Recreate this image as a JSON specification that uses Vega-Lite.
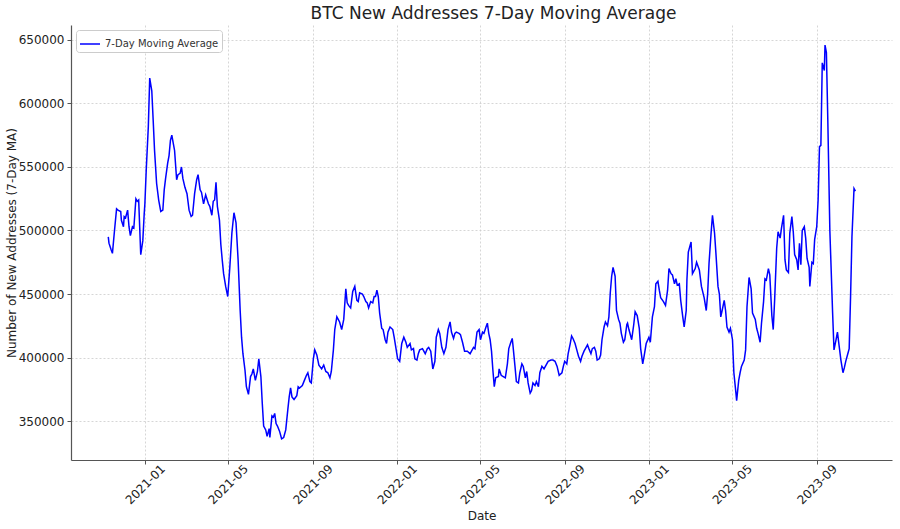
{
  "$schema": "https://vega.github.io/schema/vega-lite/v6.json",
  "width": 821,
  "height": 435,
  "autosize": {"type": "none"},
  "padding": {"left": 71, "top": 25, "right": 8, "bottom": 69},
  "background": "white",
  "title": {"text": "BTC New Addresses 7-Day Moving Average", "fontSize": 17, "fontWeight": "normal", "font": "DejaVu Sans", "color": "#222222", "anchor": "middle", "offset": 2, "dx": 12},
  "data": {"values": [
    {"date":"2020-11-09","value":495000},{"date":"2020-11-10","value":490000},{"date":"2020-11-13","value":485000},{"date":"2020-11-15","value":482000},{"date":"2020-11-18","value":500000},{"date":"2020-11-21","value":517000},{"date":"2020-11-23","value":516000},{"date":"2020-11-27","value":515000},{"date":"2020-11-28","value":508000},{"date":"2020-12-01","value":503000},{"date":"2020-12-02","value":511000},{"date":"2020-12-04","value":510000},{"date":"2020-12-07","value":516000},{"date":"2020-12-09","value":503000},{"date":"2020-12-11","value":496000},{"date":"2020-12-14","value":503000},{"date":"2020-12-16","value":502000},{"date":"2020-12-19","value":525000},{"date":"2020-12-21","value":523000},{"date":"2020-12-23","value":524000},{"date":"2020-12-26","value":481000},{"date":"2020-12-29","value":492000},{"date":"2020-12-31","value":513000},
    {"date":"2021-01-01","value":521000},{"date":"2021-01-03","value":548000},{"date":"2021-01-06","value":582000},{"date":"2021-01-08","value":620000},{"date":"2021-01-11","value":610000},{"date":"2021-01-13","value":587000},{"date":"2021-01-15","value":563000},{"date":"2021-01-18","value":537000},{"date":"2021-01-21","value":524000},{"date":"2021-01-24","value":515000},{"date":"2021-01-27","value":516000},{"date":"2021-01-29","value":532000},{"date":"2021-01-31","value":541000},{"date":"2021-02-03","value":553000},{"date":"2021-02-05","value":559000},{"date":"2021-02-07","value":571000},{"date":"2021-02-09","value":575000},{"date":"2021-02-11","value":569000},{"date":"2021-02-13","value":563000},{"date":"2021-02-16","value":540000},{"date":"2021-02-18","value":544000},{"date":"2021-02-21","value":545000},{"date":"2021-02-23","value":550000},{"date":"2021-02-25","value":541000},{"date":"2021-02-28","value":534000},{"date":"2021-03-03","value":529000},{"date":"2021-03-06","value":516000},{"date":"2021-03-09","value":511000},{"date":"2021-03-11","value":512000},{"date":"2021-03-14","value":529000},{"date":"2021-03-17","value":540000},{"date":"2021-03-19","value":544000},{"date":"2021-03-22","value":532000},{"date":"2021-03-24","value":530000},{"date":"2021-03-27","value":521000},{"date":"2021-03-30","value":528000},{"date":"2021-04-03","value":521000},{"date":"2021-04-05","value":519000},{"date":"2021-04-08","value":512000},{"date":"2021-04-10","value":523000},{"date":"2021-04-12","value":524000},{"date":"2021-04-14","value":538000},{"date":"2021-04-16","value":519000},{"date":"2021-04-19","value":508000},{"date":"2021-04-21","value":489000},{"date":"2021-04-23","value":477000},{"date":"2021-04-25","value":466000},{"date":"2021-04-28","value":456000},{"date":"2021-05-01","value":448000},{"date":"2021-05-04","value":471000},{"date":"2021-05-07","value":498000},{"date":"2021-05-10","value":514000},{"date":"2021-05-13","value":506000},{"date":"2021-05-16","value":477000},{"date":"2021-05-19","value":437000},{"date":"2021-05-21","value":416000},{"date":"2021-05-23","value":403000},{"date":"2021-05-26","value":390000},{"date":"2021-05-28","value":377000},{"date":"2021-05-31","value":371000},{"date":"2021-06-03","value":385000},{"date":"2021-06-05","value":387000},{"date":"2021-06-07","value":391000},{"date":"2021-06-10","value":382000},{"date":"2021-06-13","value":389000},{"date":"2021-06-15","value":399000},{"date":"2021-06-18","value":385000},{"date":"2021-06-20","value":364000},{"date":"2021-06-22","value":346000},{"date":"2021-06-25","value":343000},{"date":"2021-06-27","value":338000},{"date":"2021-06-30","value":344000},{"date":"2021-07-01","value":337000},{"date":"2021-07-04","value":354000},{"date":"2021-07-06","value":353000},{"date":"2021-07-08","value":356000},{"date":"2021-07-10","value":348000},{"date":"2021-07-12","value":346000},{"date":"2021-07-15","value":342000},{"date":"2021-07-18","value":336000},{"date":"2021-07-21","value":337000},{"date":"2021-07-24","value":343000},{"date":"2021-07-27","value":359000},{"date":"2021-07-29","value":369000},{"date":"2021-07-31","value":376000},{"date":"2021-08-02","value":369000},{"date":"2021-08-05","value":367000},{"date":"2021-08-09","value":370000},{"date":"2021-08-11","value":377000},{"date":"2021-08-13","value":376000},{"date":"2021-08-17","value":378000},{"date":"2021-08-20","value":382000},{"date":"2021-08-23","value":386000},{"date":"2021-08-25","value":388000},{"date":"2021-08-28","value":381000},{"date":"2021-08-30","value":380000},{"date":"2021-09-02","value":399000},{"date":"2021-09-04","value":406000},{"date":"2021-09-07","value":402000},{"date":"2021-09-10","value":394000},{"date":"2021-09-14","value":391000},{"date":"2021-09-17","value":394000},{"date":"2021-09-20","value":389000},{"date":"2021-09-23","value":388000},{"date":"2021-09-26","value":384000},{"date":"2021-09-28","value":389000},{"date":"2021-10-01","value":406000},{"date":"2021-10-03","value":422000},{"date":"2021-10-06","value":432000},{"date":"2021-10-08","value":430000},{"date":"2021-10-10","value":428000},{"date":"2021-10-13","value":422000},{"date":"2021-10-16","value":430000},{"date":"2021-10-19","value":454000},{"date":"2021-10-21","value":443000},{"date":"2021-10-23","value":441000},{"date":"2021-10-26","value":439000},{"date":"2021-10-29","value":452000},{"date":"2021-11-01","value":456000},{"date":"2021-11-04","value":445000},{"date":"2021-11-06","value":444000},{"date":"2021-11-08","value":451000},{"date":"2021-11-12","value":450000},{"date":"2021-11-14","value":448000},{"date":"2021-11-17","value":444000},{"date":"2021-11-19","value":443000},{"date":"2021-11-21","value":439000},{"date":"2021-11-24","value":444000},{"date":"2021-11-27","value":443000},{"date":"2021-11-29","value":448000},{"date":"2021-12-01","value":448000},{"date":"2021-12-03","value":453000},{"date":"2021-12-05","value":448000},{"date":"2021-12-07","value":435000},{"date":"2021-12-10","value":423000},{"date":"2021-12-12","value":422000},{"date":"2021-12-15","value":414000},{"date":"2021-12-17","value":411000},{"date":"2021-12-19","value":420000},{"date":"2021-12-22","value":424000},{"date":"2021-12-26","value":422000},{"date":"2021-12-28","value":416000},{"date":"2021-12-31","value":406000},
    {"date":"2022-01-02","value":399000},{"date":"2022-01-05","value":397000},{"date":"2022-01-08","value":411000},{"date":"2022-01-11","value":416000},{"date":"2022-01-14","value":412000},{"date":"2022-01-16","value":408000},{"date":"2022-01-20","value":411000},{"date":"2022-01-22","value":406000},{"date":"2022-01-25","value":407000},{"date":"2022-01-27","value":399000},{"date":"2022-01-30","value":398000},{"date":"2022-02-01","value":403000},{"date":"2022-02-03","value":406000},{"date":"2022-02-07","value":407000},{"date":"2022-02-11","value":403000},{"date":"2022-02-14","value":407000},{"date":"2022-02-16","value":408000},{"date":"2022-02-19","value":405000},{"date":"2022-02-22","value":391000},{"date":"2022-02-25","value":397000},{"date":"2022-02-27","value":416000},{"date":"2022-03-02","value":422000},{"date":"2022-03-04","value":419000},{"date":"2022-03-07","value":408000},{"date":"2022-03-10","value":403000},{"date":"2022-03-13","value":408000},{"date":"2022-03-16","value":422000},{"date":"2022-03-19","value":428000},{"date":"2022-03-21","value":420000},{"date":"2022-03-24","value":415000},{"date":"2022-03-26","value":419000},{"date":"2022-03-28","value":420000},{"date":"2022-04-01","value":419000},{"date":"2022-04-03","value":418000},{"date":"2022-04-06","value":412000},{"date":"2022-04-09","value":405000},{"date":"2022-04-13","value":405000},{"date":"2022-04-17","value":403000},{"date":"2022-04-19","value":405000},{"date":"2022-04-22","value":408000},{"date":"2022-04-24","value":407000},{"date":"2022-04-27","value":420000},{"date":"2022-04-30","value":422000},{"date":"2022-05-02","value":414000},{"date":"2022-05-05","value":420000},{"date":"2022-05-07","value":419000},{"date":"2022-05-10","value":424000},{"date":"2022-05-12","value":427000},{"date":"2022-05-14","value":419000},{"date":"2022-05-16","value":414000},{"date":"2022-05-18","value":405000},{"date":"2022-05-20","value":390000},{"date":"2022-05-22","value":377000},{"date":"2022-05-24","value":384000},{"date":"2022-05-28","value":385000},{"date":"2022-05-29","value":391000},{"date":"2022-06-01","value":386000},{"date":"2022-06-04","value":385000},{"date":"2022-06-07","value":384000},{"date":"2022-06-10","value":395000},{"date":"2022-06-12","value":407000},{"date":"2022-06-15","value":412000},{"date":"2022-06-17","value":415000},{"date":"2022-06-18","value":410000},{"date":"2022-06-21","value":393000},{"date":"2022-06-23","value":381000},{"date":"2022-06-26","value":380000},{"date":"2022-06-28","value":388000},{"date":"2022-07-01","value":395000},{"date":"2022-07-03","value":393000},{"date":"2022-07-06","value":384000},{"date":"2022-07-08","value":389000},{"date":"2022-07-10","value":380000},{"date":"2022-07-13","value":372000},{"date":"2022-07-15","value":374000},{"date":"2022-07-17","value":380000},{"date":"2022-07-20","value":378000},{"date":"2022-07-22","value":381000},{"date":"2022-07-25","value":377000},{"date":"2022-07-27","value":388000},{"date":"2022-07-30","value":393000},{"date":"2022-08-02","value":391000},{"date":"2022-08-05","value":394000},{"date":"2022-08-08","value":397000},{"date":"2022-08-12","value":398000},{"date":"2022-08-15","value":398000},{"date":"2022-08-18","value":397000},{"date":"2022-08-21","value":393000},{"date":"2022-08-24","value":386000},{"date":"2022-08-28","value":388000},{"date":"2022-08-30","value":393000},{"date":"2022-09-01","value":397000},{"date":"2022-09-04","value":395000},{"date":"2022-09-06","value":403000},{"date":"2022-09-09","value":411000},{"date":"2022-09-11","value":417000},{"date":"2022-09-13","value":415000},{"date":"2022-09-16","value":411000},{"date":"2022-09-18","value":407000},{"date":"2022-09-21","value":401000},{"date":"2022-09-24","value":397000},{"date":"2022-09-26","value":401000},{"date":"2022-09-29","value":405000},{"date":"2022-10-01","value":407000},{"date":"2022-10-04","value":410000},{"date":"2022-10-06","value":407000},{"date":"2022-10-09","value":403000},{"date":"2022-10-11","value":407000},{"date":"2022-10-14","value":408000},{"date":"2022-10-16","value":405000},{"date":"2022-10-18","value":398000},{"date":"2022-10-21","value":399000},{"date":"2022-10-23","value":402000},{"date":"2022-10-25","value":414000},{"date":"2022-10-28","value":424000},{"date":"2022-10-30","value":428000},{"date":"2022-11-02","value":425000},{"date":"2022-11-04","value":432000},{"date":"2022-11-06","value":451000},{"date":"2022-11-08","value":464000},{"date":"2022-11-10","value":471000},{"date":"2022-11-13","value":464000},{"date":"2022-11-15","value":437000},{"date":"2022-11-18","value":430000},{"date":"2022-11-20","value":427000},{"date":"2022-11-22","value":419000},{"date":"2022-11-25","value":412000},{"date":"2022-11-27","value":414000},{"date":"2022-11-30","value":426000},{"date":"2022-12-01","value":427000},{"date":"2022-12-03","value":422000},{"date":"2022-12-07","value":414000},{"date":"2022-12-10","value":426000},{"date":"2022-12-12","value":436000},{"date":"2022-12-15","value":433000},{"date":"2022-12-18","value":423000},{"date":"2022-12-20","value":407000},{"date":"2022-12-23","value":395000},{"date":"2022-12-25","value":401000},{"date":"2022-12-28","value":411000},
    {"date":"2023-01-01","value":416000},{"date":"2023-01-03","value":412000},{"date":"2023-01-06","value":432000},{"date":"2023-01-09","value":440000},{"date":"2023-01-11","value":458000},{"date":"2023-01-14","value":460000},{"date":"2023-01-16","value":453000},{"date":"2023-01-18","value":447000},{"date":"2023-01-22","value":444000},{"date":"2023-01-25","value":441000},{"date":"2023-01-28","value":453000},{"date":"2023-01-30","value":470000},{"date":"2023-02-02","value":466000},{"date":"2023-02-04","value":465000},{"date":"2023-02-07","value":458000},{"date":"2023-02-09","value":462000},{"date":"2023-02-11","value":457000},{"date":"2023-02-14","value":458000},{"date":"2023-02-16","value":445000},{"date":"2023-02-19","value":432000},{"date":"2023-02-21","value":424000},{"date":"2023-02-24","value":437000},{"date":"2023-02-25","value":461000},{"date":"2023-02-27","value":483000},{"date":"2023-03-03","value":491000},{"date":"2023-03-05","value":466000},{"date":"2023-03-09","value":470000},{"date":"2023-03-11","value":475000},{"date":"2023-03-15","value":469000},{"date":"2023-03-18","value":456000},{"date":"2023-03-22","value":447000},{"date":"2023-03-25","value":437000},{"date":"2023-03-27","value":450000},{"date":"2023-03-29","value":474000},{"date":"2023-04-01","value":498000},{"date":"2023-04-03","value":512000},{"date":"2023-04-06","value":498000},{"date":"2023-04-08","value":482000},{"date":"2023-04-11","value":456000},{"date":"2023-04-13","value":450000},{"date":"2023-04-15","value":432000},{"date":"2023-04-17","value":437000},{"date":"2023-04-20","value":445000},{"date":"2023-04-22","value":437000},{"date":"2023-04-24","value":424000},{"date":"2023-04-27","value":420000},{"date":"2023-04-29","value":423000},{"date":"2023-05-02","value":414000},{"date":"2023-05-04","value":388000},{"date":"2023-05-07","value":372000},{"date":"2023-05-08","value":366000},{"date":"2023-05-11","value":382000},{"date":"2023-05-13","value":388000},{"date":"2023-05-15","value":393000},{"date":"2023-05-19","value":398000},{"date":"2023-05-21","value":406000},{"date":"2023-05-23","value":440000},{"date":"2023-05-26","value":463000},{"date":"2023-05-29","value":454000},{"date":"2023-05-31","value":435000},{"date":"2023-06-04","value":430000},{"date":"2023-06-06","value":423000},{"date":"2023-06-08","value":419000},{"date":"2023-06-11","value":412000},{"date":"2023-06-13","value":427000},{"date":"2023-06-16","value":444000},{"date":"2023-06-18","value":462000},{"date":"2023-06-20","value":461000},{"date":"2023-06-23","value":470000},{"date":"2023-06-25","value":465000},{"date":"2023-06-28","value":433000},{"date":"2023-06-30","value":422000},{"date":"2023-07-02","value":445000},{"date":"2023-07-05","value":486000},{"date":"2023-07-07","value":499000},{"date":"2023-07-10","value":494000},{"date":"2023-07-12","value":502000},{"date":"2023-07-15","value":512000},{"date":"2023-07-17","value":477000},{"date":"2023-07-19","value":469000},{"date":"2023-07-22","value":467000},{"date":"2023-07-24","value":498000},{"date":"2023-07-27","value":511000},{"date":"2023-07-29","value":499000},{"date":"2023-07-31","value":481000},{"date":"2023-08-03","value":477000},{"date":"2023-08-05","value":469000},{"date":"2023-08-07","value":490000},{"date":"2023-08-09","value":473000},{"date":"2023-08-11","value":500000},{"date":"2023-08-14","value":503000},{"date":"2023-08-16","value":494000},{"date":"2023-08-18","value":478000},{"date":"2023-08-21","value":471000},{"date":"2023-08-22","value":456000},{"date":"2023-08-25","value":475000},{"date":"2023-08-27","value":474000},{"date":"2023-08-29","value":493000},{"date":"2023-09-01","value":503000},{"date":"2023-09-03","value":524000},{"date":"2023-09-05","value":566000},{"date":"2023-09-07","value":567000},{"date":"2023-09-09","value":632000},{"date":"2023-09-12","value":626000},{"date":"2023-09-13","value":646000},{"date":"2023-09-15","value":640000},{"date":"2023-09-17","value":588000},{"date":"2023-09-20","value":500000},{"date":"2023-09-24","value":435000},{"date":"2023-09-26","value":406000},{"date":"2023-09-29","value":414000},{"date":"2023-10-01","value":420000},{"date":"2023-10-03","value":411000},{"date":"2023-10-06","value":398000},{"date":"2023-10-09","value":388000},{"date":"2023-10-11","value":392000},{"date":"2023-10-13","value":397000},{"date":"2023-10-16","value":403000},{"date":"2023-10-18","value":407000},{"date":"2023-10-20","value":448000},{"date":"2023-10-22","value":495000},{"date":"2023-10-25","value":533000},{"date":"2023-10-27","value":531000}
  ]},
  "mark": {"type": "line", "strokeWidth": 1.5, "interpolate": "linear"},
  "encoding": {
    "x": {
      "field": "date", "type": "temporal",
      "scale": {"type": "utc", "domain": [{"year": 2020, "month": 9, "date": 16, "utc": true}, {"year": 2023, "month": 12, "date": 19, "utc": true}], "nice": false},
      "axis": {
        "title": "Date",
        "values": [
          {"year": 2021, "month": 1, "date": 1, "utc": true},
          {"year": 2021, "month": 5, "date": 1, "utc": true},
          {"year": 2021, "month": 9, "date": 1, "utc": true},
          {"year": 2022, "month": 1, "date": 1, "utc": true},
          {"year": 2022, "month": 5, "date": 1, "utc": true},
          {"year": 2022, "month": 9, "date": 1, "utc": true},
          {"year": 2023, "month": 1, "date": 1, "utc": true},
          {"year": 2023, "month": 5, "date": 1, "utc": true},
          {"year": 2023, "month": 9, "date": 1, "utc": true}
        ],
        "format": "%Y-%m",
        "labelAngle": -45,
        "labelAlign": "center",
        "labelBaseline": "middle",
        "labelPadding": 20,
        "labelOverlap": false,
        "titlePadding": 5,
        "grid": true
      }
    },
    "y": {
      "field": "value", "type": "quantitative",
      "scale": {"domain": [319300, 661800], "nice": false, "zero": false},
      "axis": {
        "title": "Number of New Addresses (7-Day MA)",
        "values": [350000, 400000, 450000, 500000, 550000, 600000, 650000],
        "format": "d",
        "labelPadding": 3,
        "titlePadding": 0,
        "grid": true
      }
    },
    "color": {
      "datum": "7-Day Moving Average",
      "type": "nominal",
      "scale": {"range": ["#0000ff"]},
      "legend": {"title": null, "orient": "top-left", "offset": 5}
    }
  },
  "config": {
    "font": "DejaVu Sans",
    "view": {"stroke": null},
    "axis": {
      "labelFont": "DejaVu Sans", "titleFont": "DejaVu Sans",
      "labelFontSize": 12, "titleFontSize": 12, "titleFontWeight": "normal",
      "labelColor": "#222222", "titleColor": "#222222",
      "domainColor": "#555555", "domainWidth": 1.2,
      "tickColor": "#555555", "tickSize": 4,
      "gridColor": "#cccccc", "gridDash": [2, 2], "gridWidth": 0.8
    },
    "legend": {
      "strokeColor": "#cccccc", "cornerRadius": 3, "padding": 3, "fillColor": "white",
      "labelFont": "DejaVu Sans", "labelFontSize": 10, "labelColor": "#333333",
      "symbolType": "stroke", "symbolSize": 400, "symbolStrokeWidth": 1.5
    }
  }
}
